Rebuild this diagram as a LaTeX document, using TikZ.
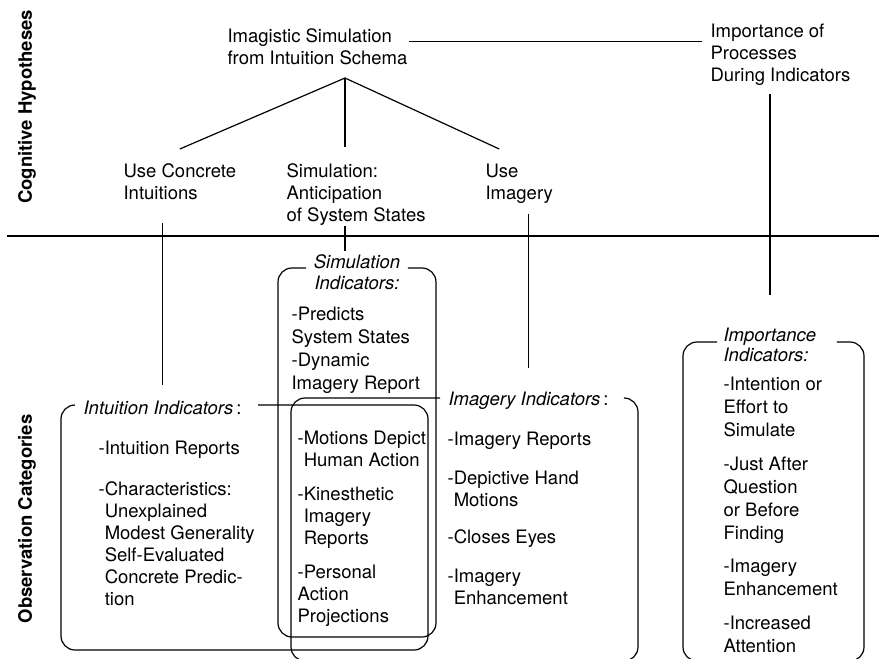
\documentclass[tikz,border=0pt]{standalone}
\usepackage{fontspec}
\setmainfont{TeX Gyre Heros}

\newcommand\figfont{\fontsize{18.5}{22}\selectfont}
\newcommand\ind{\phantom{-}}

\begin{document}
\begin{tikzpicture}[x=1pt,y=-1pt,line width=1.2pt,
    txt/.style={anchor=north west,inner sep=0pt,align=left,font=\figfont},
    ttl/.style={inner xsep=8pt,inner ysep=0pt,align=left,font=\figfont\itshape},
    side/.style={rotate=90,font=\figfont\bfseries},
    box/.style={rounded corners=14pt}]
  \fill[white] (0,0) rectangle (879,659);
  \useasboundingbox (0,0) rectangle (879,659);

  % side labels and divider
  \node[side] (cog) at (27,107) {Cognitive Hypotheses};
  \node[side] (obs) at (27,519) {Observation Categories};
  \draw (7,236) -- (879,236);

  % hypotheses
  \node[txt] (top) at (227,28) {Imagistic Simulation\\from Intuition Schema};
  \node[txt] (imp) at (710,23) {Importance of\\Processes\\During Indicators};
  \node[txt] (concrete) at (123,163) {Use Concrete\\Intuitions};
  \node[txt] (simul) at (286,163) {Simulation:\\Anticipation\\of System States};
  \node[txt] (imagery) at (485,163) {Use\\Imagery};

  \coordinate (apex) at (345,78);
  \coordinate (tr) at ([yshift=5pt]top.east);
  \draw[shorten <=1pt,shorten >=8pt] (tr) -- (tr -| imp.west);
  \draw (apex) -- ([yshift=14pt]concrete.north);
  \draw[shorten >=16pt] (apex) -- (apex |- simul.north);
  \draw (apex) -- ([xshift=-20pt,yshift=14pt]imagery.north);

  % indicator titles
  \node[ttl,anchor=west,font=\figfont] (intt) at (75,408) {\textit{Intuition Indicators}\,:};
  \node[ttl,align=center,inner xsep=7pt,font=\fontsize{18.5}{21}\selectfont\itshape] (simt) at (357,272.5) {Simulation\\Indicators:};
  \node[ttl,anchor=west,font=\figfont] (imgt) at (440,401) {\textit{Imagery Indicators}\,:};
  \node[ttl,anchor=west,inner xsep=6pt,font=\fontsize{18.5}{20}\selectfont\itshape] (impt) at (717,345) {Importance\\Indicators:};

  % category boxes
  \draw[box] ([yshift=3pt]intt.west) -| (61,650) -| (428,405) -- ([xshift=8pt,yshift=3pt]intt.east);
  \draw[box] ([yshift=4.5pt]simt.west) -| (278,637) -| (436,268) -- ([yshift=4.5pt]simt.east);
  \draw[box] ([yshift=3pt]imgt.west) -| (291,661) -| (638,398) -- ([xshift=8pt,yshift=3pt]imgt.east);
  \draw[box] ([yshift=3pt]impt.west) -| (683,661) -| (864,342) -- ([xshift=14pt,yshift=3pt]impt.east);

  % links down to the categories
  \draw[shorten <=23pt,shorten >=16pt] (intt.north |- concrete.south) -- (intt.north);
  \draw[shorten >=3pt] (apex |- simul.south) -- (apex |- simt.north);
  \draw[shorten <=10pt,shorten >=24pt] (imgt.north |- imagery.south) -- (imgt.north);
  \draw[shorten <=8pt,shorten >=33pt] (impt.north |- imp.south) -- (impt.north);

  % indicator lists
  \node[txt,font=\fontsize{18.5}{23.3}\selectfont] (simb) at (291,306) {-Predicts\\System States\\-Dynamic\\Imagery Report};
  \node[txt] (intb) at (98,440) {-Intuition Reports\\[19pt]-Characteristics:\\\ind Unexplained\\\ind Modest Generality\\\ind Self-Evaluated\\\ind Concrete Predic-\\\ind tion};
  \node[txt] (allb) at (297,430) {-Motions Depict\\\ind Human Action\\[12pt]-Kinesthetic\\\ind Imagery\\\ind Reports\\[12pt]-Personal\\Action\\Projections};
  \node[txt] (imgb) at (447,431) {-Imagery Reports\\[17pt]-Depictive Hand\\\ind Motions\\[15pt]-Closes Eyes\\[17pt]-Imagery\\\ind Enhancement};
  \node[txt,font=\fontsize{18.5}{23}\selectfont] (impb) at (723,376) {-Intention or\\Effort to\\Simulate\\[11pt]-Just After\\Question\\or Before\\Finding\\[10pt]-Imagery\\Enhancement\\[11pt]-Increased\\Attention};
\end{tikzpicture}
\end{document}
